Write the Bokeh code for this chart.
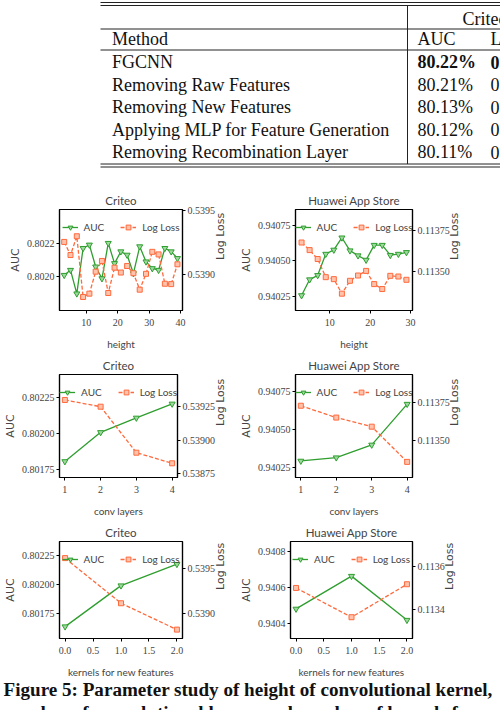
import math
from bokeh.plotting import figure
from bokeh.layouts import column, row
from bokeh.models import Range1d, LinearAxis, FixedTicker, PrintfTickFormatter, Legend
from bokeh.embed import file_html
from bokeh.resources import INLINE

# ---- table (ablation study, cropped) ----
methods = ["FGCNN", "Removing Raw Features", "Removing New Features",
           "Applying MLP for Feature Generation", "Removing Recombination Layer"]
criteo_auc = ["80.22%", "80.21%", "80.13%", "80.12%", "80.11%"]
criteo_logloss = ["0.5388", "0.5389", "0.5396", "0.5397", "0.5398"]

# ---- height of convolutional kernel ----
height_criteo = [3, 5, 7, 9, 11, 13, 15, 17, 19, 21, 23, 25, 27, 29, 31, 33, 35, 37, 39]
auc_height_criteo = [0.80201, 0.80204, 0.80190, 0.80217, 0.80219, 0.80206, 0.80199, 0.80220,
                     0.80208, 0.80215, 0.80213, 0.80202, 0.80218, 0.80209, 0.80205, 0.80204,
                     0.80217, 0.80215, 0.80211]
loss_height_criteo = [0.539256, 0.539154, 0.539300, 0.538828, 0.538854, 0.539025, 0.539108,
                      0.538859, 0.539056, 0.539018, 0.539069, 0.539013, 0.538885, 0.539008,
                      0.539179, 0.539159, 0.538931, 0.538928, 0.539082]

height_huawei = [3, 5, 7, 9, 11, 13, 15, 17, 19, 21, 23, 25, 27, 29]
auc_height_huawei = [0.940255, 0.940367, 0.940397, 0.940547, 0.940576, 0.940662, 0.940571,
                     0.940536, 0.940505, 0.940610, 0.940610, 0.940539, 0.940547, 0.940559]
loss_height_huawei = [0.113676, 0.113630, 0.113576, 0.113466, 0.113454, 0.113366, 0.113444,
                      0.113476, 0.113504, 0.113424, 0.113394, 0.113474, 0.113470, 0.113450]

# ---- number of convolutional layers ----
conv_layers = [1, 2, 3, 4]
auc_conv_criteo = [0.801806, 0.802007, 0.802107, 0.802204]
loss_conv_criteo = [0.539300, 0.539250, 0.538907, 0.538828]
auc_conv_huawei = [0.940294, 0.940316, 0.940400, 0.940669]
loss_conv_huawei = [0.113728, 0.113650, 0.113590, 0.113358]

# ---- number of kernels for new features ----
kernels = [0.0, 1.0, 2.0]
auc_kern_criteo = [0.801640, 0.801992, 0.802176]
loss_kern_criteo = [0.539618, 0.539115, 0.538821]
auc_kern_huawei = [0.940480, 0.940662, 0.940418]
loss_kern_huawei = [0.113500, 0.113365, 0.113517]

caption = ["Figure 5: Parameter study of height of convolutional kernel,",
           "number of convolutional layers and number of kernels for"]

GREEN = "#2e9e2e"
ORANGE = "#ff6a3d"
SERIF = "Liberation Serif"
SANS = "Lato"


def style_axis(ax, ticks, fmt):
    ax.ticker = FixedTicker(ticks=ticks)
    ax.formatter = PrintfTickFormatter(format=fmt)
    ax.major_label_text_font = SERIF
    ax.major_label_text_font_size = "10px"
    ax.major_tick_out = 3
    ax.major_tick_in = 0
    ax.minor_tick_line_color = None
    ax.major_label_standoff = 2
    ax.axis_line_width = 1.2
    ax.major_tick_line_width = 1


def chart(title, xs, auc, loss, x_rng, auc_rng, loss_rng, x_ticks, auc_ticks, loss_ticks,
          x_fmt, auc_fmt, loss_fmt, x_label, w, h, borders):
    bl, br, bt, bb = borders
    p = figure(width=w, height=h, x_range=Range1d(*x_rng), y_range=Range1d(*auc_rng),
               output_backend="svg", toolbar_location=None,
               min_border_left=bl, min_border_right=br, min_border_top=bt, min_border_bottom=bb)
    p.extra_y_ranges = {"loss": Range1d(*loss_rng)}
    p.grid.visible = False
    p.outline_line_color = "black"
    p.outline_line_width = 1.2
    p.outline_line_alpha = 1
    p.title.text = title
    p.title.align = "center"
    p.title.text_font = SANS
    p.title.text_font_size = "11.5px"
    p.title.text_font_style = "normal"
    p.title.standoff = 6

    style_axis(p.xaxis[0], x_ticks, x_fmt)
    p.xaxis.major_label_standoff = 5
    p.xaxis.axis_label = x_label
    p.xaxis.axis_label_text_font = SANS
    p.xaxis.axis_label_text_font_size = "10px"
    p.xaxis.axis_label_text_font_style = "normal"
    p.xaxis.axis_label_standoff = 9

    style_axis(p.yaxis[0], auc_ticks, auc_fmt)
    p.yaxis.axis_label = "AUC"
    p.yaxis.axis_label_text_font = "DejaVu Sans"
    p.yaxis.axis_label_text_font_size = "11px"
    p.yaxis.axis_label_text_font_style = "normal"
    p.yaxis.axis_label_standoff = 2

    rax = LinearAxis(y_range_name="loss", axis_label="Log Loss")
    style_axis(rax, loss_ticks, loss_fmt)
    rax.axis_label_text_font = "DejaVu Sans"
    rax.axis_label_text_font_size = "11px"
    rax.axis_label_text_font_style = "normal"
    rax.axis_label_standoff = 2
    rax.axis_label_orientation = math.pi / 2
    p.add_layout(rax, "right")

    l1 = p.line(xs, auc, line_color=GREEN, line_width=1.3)
    s1 = p.scatter(xs, auc, marker="inverted_triangle", size=6, line_color=GREEN,
                   fill_color="#9fd89f", line_width=1)
    l2 = p.line(xs, loss, y_range_name="loss", line_color=ORANGE, line_width=1.3,
                line_dash="4 2")
    s2 = p.scatter(xs, loss, y_range_name="loss", marker="square", size=5,
                   line_color=ORANGE, fill_color="#ffc2ab", line_width=1)

    leg = Legend(items=[("AUC", [l1, s1]), ("Log Loss", [l2, s2])],
                 location="top_center", orientation="horizontal")
    leg.background_fill_alpha = 0
    leg.border_line_alpha = 0
    leg.label_text_font = SANS
    leg.label_text_font_size = "10px"
    leg.glyph_width = 16
    leg.glyph_height = 12
    leg.label_height = 12
    leg.label_standoff = 6
    leg.spacing = 16
    leg.padding = 0
    leg.margin = 12
    p.add_layout(leg)
    return p


WL, WR = 236, 264
BL = (59, 48)
BR = (46, 88)

c1 = chart("Criteo", height_criteo, auc_height_criteo, loss_height_criteo,
           (1.5, 40.6), (0.80180, 0.80240), (0.538723, 0.539508),
           [10, 20, 30, 40], [0.8020, 0.8022], [0.5390, 0.5395],
           "%d", "%.4f", "%.4f", "height", WL, 182, (*BL, 39, 41))
c2 = chart("Huawei App Store", height_huawei, auc_height_huawei, loss_height_huawei,
           (1.5, 30.5), (0.940149, 0.940861), (0.113264, 0.113876),
           [10, 20, 30], [0.94025, 0.94050, 0.94075], [0.11350, 0.11375],
           "%d", "%.5f", "%.5f", "height", WR, 182, (*BR, 39, 41))
c3 = chart("Criteo", conv_layers, auc_conv_criteo, loss_conv_criteo,
           (0.85, 4.15), (0.801695, 0.802407), (0.538722, 0.53949),
           conv_layers, [0.80175, 0.80200, 0.80225], [0.53875, 0.53900, 0.53925],
           "%d", "%.5f", "%.5f", "conv layers", WL, 168, (*BL, 22, 43))
c4 = chart("Huawei App Store", conv_layers, auc_conv_huawei, loss_conv_huawei,
           (0.85, 4.15), (0.940185, 0.940864), (0.113255, 0.113934),
           conv_layers, [0.94025, 0.94050, 0.94075], [0.11350, 0.11375],
           "%d", "%.5f", "%.5f", "conv layers", WR, 168, (*BR, 22, 43))
c5 = chart("Criteo", kernels, auc_kern_criteo, loss_kern_criteo,
           (-0.1, 2.1), (0.801538, 0.802371), (0.538722, 0.539803),
           [0.0, 0.5, 1.0, 1.5, 2.0], [0.80175, 0.80200, 0.80225], [0.5390, 0.5395],
           "%.1f", "%.5f", "%.4f", "kernels for new features", WL, 160, (*BL, 20, 39))
c6 = chart("Huawei App Store", kernels, auc_kern_huawei, loss_kern_huawei,
           (-0.1, 2.1), (0.940316, 0.940854), (0.113267, 0.113714),
           [0.0, 0.5, 1.0, 1.5, 2.0], [0.9404, 0.9406, 0.9408], [0.1134, 0.1136],
           "%.1f", "%.4f", "%.4f", "kernels for new features", WR, 160, (*BR, 20, 39))

# ---- table figure, coordinates in page pixels ----
tbl = figure(width=500, height=170, x_range=Range1d(0, 500), y_range=Range1d(170, 0),
             output_backend="svg", toolbar_location=None, min_border=0,
             x_axis_location=None, y_axis_location=None, outline_line_color=None)
tbl.grid.visible = False
RULE_L, RULE_R, VX = 100, 500, 407
rule_y = [2, 5, 28.5, 49.5, 163.5, 166.5]
tbl.segment(x0=[RULE_L] * len(rule_y), x1=[RULE_R] * len(rule_y), y0=rule_y, y1=rule_y,
            line_color="#222222", line_width=1)
tbl.segment(x0=[VX], x1=[VX], y0=[5], y1=[163.5], line_color="#222222", line_width=1)

row_y = [61.5 + 22.5 * i for i in range(len(methods))]
txt = dict(text_font=SERIF, text_font_size="18px", text_baseline="middle", text_color="#111111")
tbl.text(x=[462], y=[18.5], text=["Criteo"], **txt)
tbl.text(x=[111.5, 417, 490], y=[38.5] * 3, text=["Method", "AUC", "Log Loss"], **txt)
tbl.text(x=[111.5] * len(methods), y=row_y, text=methods, **txt)
tbl.text(x=[417], y=row_y[:1], text=[criteo_auc[0]], text_font_style="bold", **txt)
tbl.text(x=[490], y=row_y[:1], text=[criteo_logloss[0]], text_font_style="bold", **txt)
tbl.text(x=[417] * 4, y=row_y[1:], text=criteo_auc[1:], **txt)
tbl.text(x=[490] * 4, y=row_y[1:], text=criteo_logloss[1:], **txt)

# ---- caption ----
cap = figure(width=500, height=30, x_range=Range1d(0, 500), y_range=Range1d(710, 680),
             output_backend="svg", toolbar_location=None, min_border=0,
             x_axis_location=None, y_axis_location=None, outline_line_color=None)
cap.grid.visible = False
cap.text(x=[3, 3], y=[689, 712], text=caption, text_font=SERIF, text_font_size="19.1px",
         text_font_style="bold", text_baseline="middle", text_color="#111111")

p = column(tbl, row(c1, c2), row(c3, c4), row(c5, c6), cap)
open("out.html", "w").write(file_html(p, INLINE))
